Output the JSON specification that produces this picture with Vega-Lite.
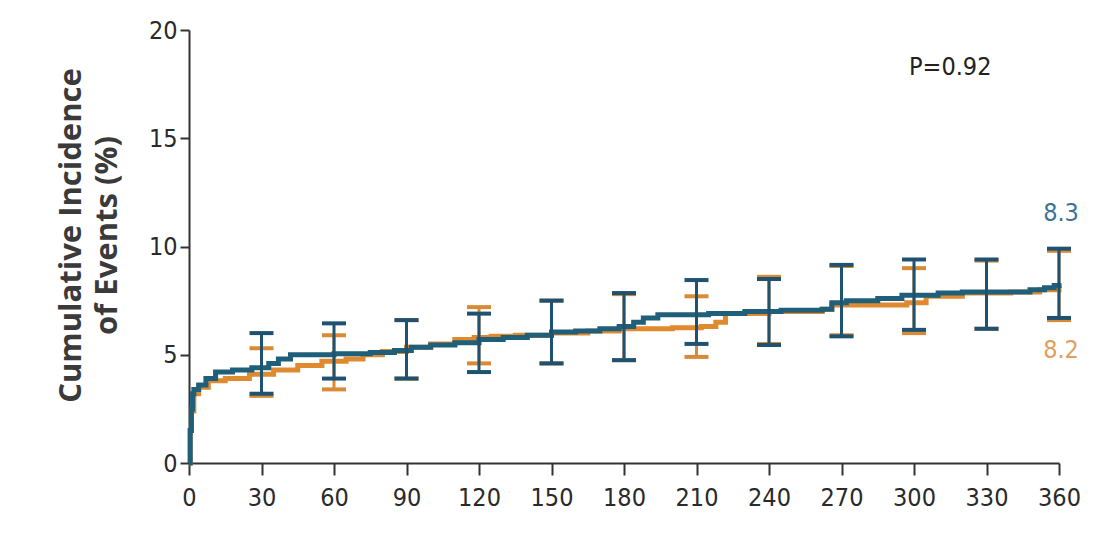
{
  "$schema": "https://vega.github.io/schema/vega-lite/v6.json",
  "width": 870,
  "height": 433,
  "autosize": "none",
  "padding": {"left": 189, "top": 30, "right": 46, "bottom": 85},
  "background": "white",
  "config": {
    "view": {"stroke": null},
    "font": "DejaVu Sans Condensed, Liberation Sans, sans-serif",
    "axis": {
      "grid": false,
      "domainColor": "#333333",
      "domainWidth": 2,
      "tickColor": "#333333",
      "tickWidth": 2,
      "labelColor": "#2a2a2a",
      "labelFont": "DejaVu Sans Condensed, Liberation Sans, sans-serif",
      "labelFontSize": 25
    }
  },
  "datasets": {
    "curves": [
      {"group": "A", "day": 0, "inc": 0},
      {"group": "A", "day": 0.5, "inc": 1.5},
      {"group": "A", "day": 1, "inc": 2.4},
      {"group": "A", "day": 2, "inc": 3.2},
      {"group": "A", "day": 4, "inc": 3.5},
      {"group": "A", "day": 8, "inc": 3.8},
      {"group": "A", "day": 15, "inc": 3.9},
      {"group": "A", "day": 25, "inc": 4.1},
      {"group": "A", "day": 35, "inc": 4.3},
      {"group": "A", "day": 45, "inc": 4.5},
      {"group": "A", "day": 55, "inc": 4.7},
      {"group": "A", "day": 65, "inc": 4.8},
      {"group": "A", "day": 72, "inc": 5.0},
      {"group": "A", "day": 80, "inc": 5.15},
      {"group": "A", "day": 90, "inc": 5.35},
      {"group": "A", "day": 100, "inc": 5.5},
      {"group": "A", "day": 110, "inc": 5.7},
      {"group": "A", "day": 118, "inc": 5.8},
      {"group": "A", "day": 125, "inc": 5.85},
      {"group": "A", "day": 135, "inc": 5.9},
      {"group": "A", "day": 150, "inc": 6.0},
      {"group": "A", "day": 165, "inc": 6.1},
      {"group": "A", "day": 178, "inc": 6.2},
      {"group": "A", "day": 200, "inc": 6.25},
      {"group": "A", "day": 212, "inc": 6.3},
      {"group": "A", "day": 218, "inc": 6.5},
      {"group": "A", "day": 222, "inc": 6.9},
      {"group": "A", "day": 240, "inc": 7.0},
      {"group": "A", "day": 262, "inc": 7.1},
      {"group": "A", "day": 266, "inc": 7.3},
      {"group": "A", "day": 297, "inc": 7.4},
      {"group": "A", "day": 305, "inc": 7.7},
      {"group": "A", "day": 320, "inc": 7.85},
      {"group": "A", "day": 340, "inc": 7.9},
      {"group": "A", "day": 352, "inc": 8.0},
      {"group": "A", "day": 360, "inc": 8.2},
      {"group": "B", "day": 0, "inc": 0},
      {"group": "B", "day": 0.5, "inc": 1.5},
      {"group": "B", "day": 1, "inc": 2.5},
      {"group": "B", "day": 1.5, "inc": 3.2},
      {"group": "B", "day": 2, "inc": 3.4},
      {"group": "B", "day": 4, "inc": 3.6},
      {"group": "B", "day": 7, "inc": 3.9},
      {"group": "B", "day": 11, "inc": 4.2},
      {"group": "B", "day": 18, "inc": 4.3},
      {"group": "B", "day": 26, "inc": 4.4},
      {"group": "B", "day": 33, "inc": 4.6},
      {"group": "B", "day": 37, "inc": 4.8},
      {"group": "B", "day": 42, "inc": 5.0},
      {"group": "B", "day": 60, "inc": 5.05},
      {"group": "B", "day": 75, "inc": 5.1},
      {"group": "B", "day": 85, "inc": 5.2},
      {"group": "B", "day": 92, "inc": 5.35},
      {"group": "B", "day": 100, "inc": 5.45},
      {"group": "B", "day": 110, "inc": 5.55},
      {"group": "B", "day": 120, "inc": 5.7},
      {"group": "B", "day": 130, "inc": 5.8},
      {"group": "B", "day": 140, "inc": 5.9},
      {"group": "B", "day": 150, "inc": 6.05},
      {"group": "B", "day": 160, "inc": 6.1},
      {"group": "B", "day": 170, "inc": 6.2},
      {"group": "B", "day": 178, "inc": 6.3},
      {"group": "B", "day": 184, "inc": 6.5},
      {"group": "B", "day": 188, "inc": 6.7},
      {"group": "B", "day": 194, "inc": 6.85},
      {"group": "B", "day": 215, "inc": 6.9},
      {"group": "B", "day": 230, "inc": 7.0},
      {"group": "B", "day": 245, "inc": 7.05},
      {"group": "B", "day": 262, "inc": 7.1},
      {"group": "B", "day": 266, "inc": 7.4},
      {"group": "B", "day": 272, "inc": 7.5},
      {"group": "B", "day": 285, "inc": 7.6},
      {"group": "B", "day": 295, "inc": 7.75},
      {"group": "B", "day": 310, "inc": 7.85},
      {"group": "B", "day": 320, "inc": 7.9},
      {"group": "B", "day": 340, "inc": 7.9},
      {"group": "B", "day": 348, "inc": 8.0},
      {"group": "B", "day": 354, "inc": 8.1},
      {"group": "B", "day": 358, "inc": 8.2},
      {"group": "B", "day": 360, "inc": 8.3}
    ],
    "intervals": [
      {"group": "A", "day": 30, "lo": 3.1, "hi": 5.3},
      {"group": "A", "day": 60, "lo": 3.4, "hi": 5.9},
      {"group": "A", "day": 90, "lo": 3.9, "hi": 6.6},
      {"group": "A", "day": 120, "lo": 4.6, "hi": 7.2},
      {"group": "A", "day": 150, "lo": 4.6, "hi": 7.5},
      {"group": "A", "day": 180, "lo": 4.75, "hi": 7.8},
      {"group": "A", "day": 210, "lo": 4.9, "hi": 7.7},
      {"group": "A", "day": 240, "lo": 5.5, "hi": 8.6},
      {"group": "A", "day": 270, "lo": 5.9, "hi": 9.1},
      {"group": "A", "day": 300, "lo": 6.0, "hi": 9.0},
      {"group": "A", "day": 330, "lo": 6.2, "hi": 9.35},
      {"group": "A", "day": 360, "lo": 6.6, "hi": 9.8},
      {"group": "B", "day": 30, "lo": 3.2, "hi": 6.0},
      {"group": "B", "day": 60, "lo": 3.9, "hi": 6.45},
      {"group": "B", "day": 90, "lo": 3.9, "hi": 6.6},
      {"group": "B", "day": 120, "lo": 4.2, "hi": 6.9},
      {"group": "B", "day": 150, "lo": 4.6, "hi": 7.5},
      {"group": "B", "day": 180, "lo": 4.75, "hi": 7.85},
      {"group": "B", "day": 210, "lo": 5.5, "hi": 8.45},
      {"group": "B", "day": 240, "lo": 5.45, "hi": 8.5},
      {"group": "B", "day": 270, "lo": 5.85, "hi": 9.15},
      {"group": "B", "day": 300, "lo": 6.15, "hi": 9.4},
      {"group": "B", "day": 330, "lo": 6.2, "hi": 9.4},
      {"group": "B", "day": 360, "lo": 6.7, "hi": 9.9}
    ],
    "notes": [
      {"note": "P=0.92", "day": 315, "inc": 18.3}
    ]
  },
  "encoding": {
    "x": {
      "field": "day",
      "type": "quantitative",
      "scale": {"domain": [0, 360], "nice": false, "zero": false},
      "axis": {
        "title": null,
        "values": [0, 30, 60, 90, 120, 150, 180, 210, 240, 270, 300, 330, 360],
        "tickSize": 12,
        "labelPadding": 10,
        "labelFlush": false
      }
    },
    "y": {
      "field": "inc",
      "type": "quantitative",
      "scale": {"domain": [0, 20], "nice": false},
      "axis": {
        "title": ["Cumulative Incidence", "of Events (%)"],
        "titleFont": "Open Sans",
        "titleFontWeight": "bold",
        "titleFontSize": 31,
        "titleColor": "#3a3a3a",
        "titleLineHeight": 36,
        "titlePadding": 25,
        "titleY": 205,
        "values": [0, 5, 10, 15, 20],
        "tickSize": 9,
        "labelPadding": 3
      }
    }
  },
  "layer": [
    {
      "data": {"name": "curves"},
      "transform": [{"filter": "datum.group === 'A'"}],
      "mark": {"type": "line", "interpolate": "step-after", "color": "#e08a30", "strokeWidth": 5}
    },
    {
      "data": {"name": "intervals"},
      "transform": [{"filter": "datum.group === 'A'"}],
      "mark": {"type": "errorbar", "orient": "vertical", "color": "#d98a35", "thickness": 3, "ticks": {"size": 24, "thickness": 4, "opacity": 1}, "opacity": 1},
      "encoding": {
        "y": {"field": "lo", "type": "quantitative"},
        "y2": {"field": "hi"}
      }
    },
    {
      "data": {"name": "curves"},
      "transform": [{"filter": "datum.group === 'B'"}],
      "mark": {"type": "line", "interpolate": "step-after", "color": "#1f5f7a", "strokeWidth": 5}
    },
    {
      "data": {"name": "intervals"},
      "transform": [{"filter": "datum.group === 'B'"}],
      "mark": {"type": "errorbar", "orient": "vertical", "color": "#1e5270", "thickness": 3, "ticks": {"size": 24, "thickness": 4, "opacity": 1}, "opacity": 1},
      "encoding": {
        "y": {"field": "lo", "type": "quantitative"},
        "y2": {"field": "hi"}
      }
    },
    {
      "data": {"name": "curves"},
      "transform": [{"filter": "datum.group === 'B' && datum.day === 360"}],
      "mark": {"type": "text", "fontSize": 25, "color": "#3d7396", "dy": -70, "dx": 2},
      "encoding": {"text": {"field": "inc", "type": "quantitative", "format": ".1f"}}
    },
    {
      "data": {"name": "curves"},
      "transform": [{"filter": "datum.group === 'A' && datum.day === 360"}],
      "mark": {"type": "text", "fontSize": 25, "color": "#e0a060", "dy": 65, "dx": 2},
      "encoding": {"text": {"field": "inc", "type": "quantitative", "format": ".1f"}}
    },
    {
      "data": {"name": "notes"},
      "mark": {"type": "text", "fontSize": 25, "color": "#222222"},
      "encoding": {
        "text": {"field": "note", "type": "nominal"}
      }
    }
  ]
}
